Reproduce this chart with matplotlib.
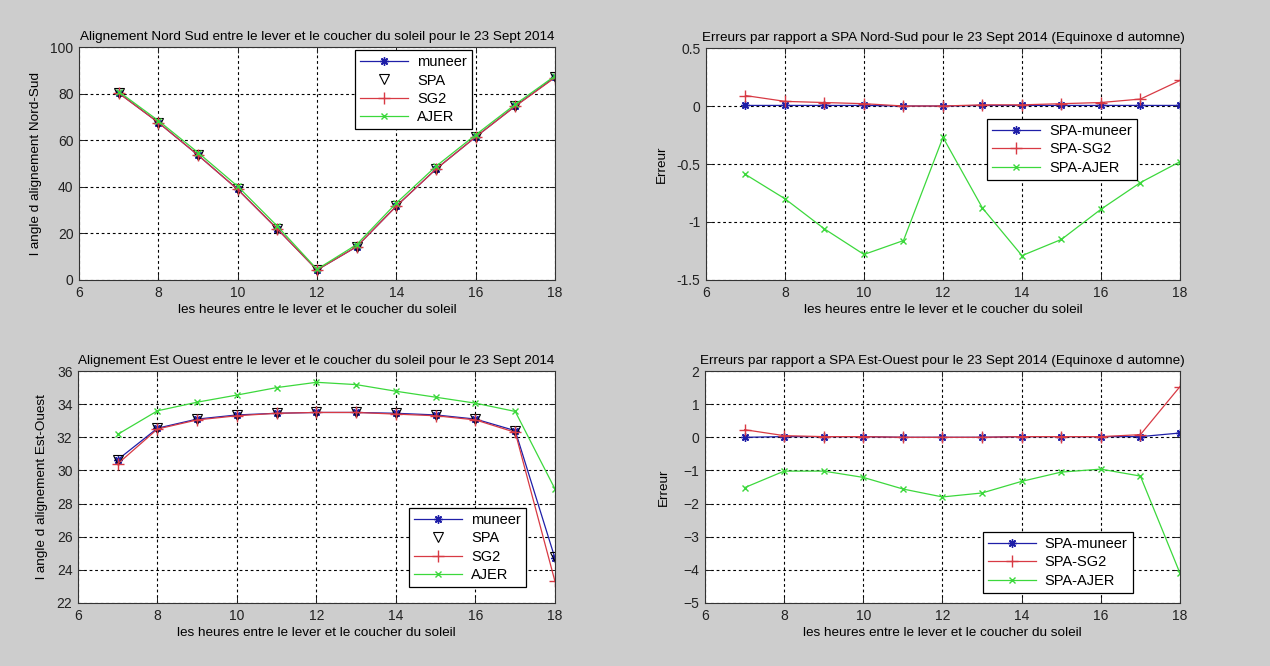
import matplotlib
matplotlib.use("Agg")
import matplotlib.pyplot as plt

plt.rcParams['font.family'] = ['Liberation Sans', 'DejaVu Sans']

hours = [7, 8, 9, 10, 11, 12, 13, 14, 15, 16, 17, 18]

# Nord-Sud alignment angle
ns_muneer = [80.3, 67.6, 53.6, 38.9, 21.9, 4.3, 14.3, 31.7, 47.6, 61.4, 74.7, 87.1]
ns_spa    = [80.3, 67.6, 53.6, 38.9, 21.9, 4.3, 14.3, 31.7, 47.6, 61.4, 74.7, 87.1]
ns_sg2    = [80.2, 67.6, 53.6, 38.9, 21.9, 4.3, 14.3, 31.7, 47.6, 61.4, 74.6, 86.9]
ns_ajer   = [80.9, 68.4, 54.7, 40.2, 23.1, 4.6, 15.2, 33.0, 48.8, 62.3, 75.4, 87.6]

# Nord-Sud errors
err_ns_muneer = [0.005, 0.005, 0.005, 0.005, 0.0, 0.0, 0.005, 0.005, 0.005, 0.005, 0.005, 0.005]
err_ns_sg2    = [0.09, 0.04, 0.03, 0.02, 0.0, 0.0, 0.01, 0.01, 0.02, 0.03, 0.06, 0.22]
err_ns_ajer   = [-0.59, -0.80, -1.06, -1.28, -1.16, -0.27, -0.88, -1.29, -1.15, -0.89, -0.66, -0.48]

# Est-Ouest alignment angle
eo_muneer = [30.65, 32.55, 33.1, 33.35, 33.45, 33.5, 33.5, 33.45, 33.35, 33.1, 32.4, 24.7]
eo_spa    = [30.65, 32.55, 33.1, 33.35, 33.45, 33.5, 33.5, 33.45, 33.35, 33.1, 32.4, 24.8]
eo_sg2    = [30.4, 32.5, 33.05, 33.3, 33.45, 33.5, 33.5, 33.4, 33.3, 33.05, 32.3, 23.3]
eo_ajer   = [32.18, 33.6, 34.12, 34.55, 35.0, 35.32, 35.18, 34.78, 34.42, 34.06, 33.56, 28.88]

# Est-Ouest errors
err_eo_muneer = [0.0, 0.02, 0.02, 0.02, 0.0, 0.0, 0.0, 0.02, 0.02, 0.02, 0.02, 0.13]
err_eo_sg2    = [0.23, 0.05, 0.02, 0.02, 0.0, 0.0, 0.0, 0.02, 0.02, 0.02, 0.08, 1.53]
err_eo_ajer   = [-1.52, -1.02, -1.02, -1.21, -1.56, -1.8, -1.68, -1.33, -1.05, -0.96, -1.17, -4.1]

xlabel_txt = "les heures entre le lever et le coucher du soleil"

BLUE = '#1f1fa8'
RED = '#d83a44'
GREEN = '#3cd83c'
BG = '#cdcdcd'
FS = 9.7
TFS = 10
ASTER = (8, 2, 0)

fig = plt.figure(figsize=(12.7, 6.66), dpi=100, facecolor=BG)

def style(ax, ylim, yticks):
    ax.set_xlim(6, 18)
    ax.set_ylim(*ylim)
    ax.set_xticks([6, 8, 10, 12, 14, 16, 18])
    ax.set_yticks(yticks)
    ax.tick_params(direction='in', length=4, width=0.7, labelsize=TFS, colors='#222222',
                   top=True, right=True, pad=4)
    ax.grid(True, color='black', linestyle=(0, (2.5, 2.5)), linewidth=0.8)
    ax.set_axisbelow(True)
    for s in ax.spines.values():
        s.set_linewidth(0.8)
        s.set_color('#333333')
    ax.set_xlabel(xlabel_txt, fontsize=FS, labelpad=3)

def legend(ax, labels, x0, top):
    leg = ax.legend(labels, loc='upper left', bbox_to_anchor=(x0, top), fontsize=10.5,
                    frameon=True, fancybox=False, edgecolor='black', framealpha=1,
                    handlelength=3.3, borderpad=0.35, labelspacing=0.3, handletextpad=0.6,
                    borderaxespad=0)
    leg.get_frame().set_linewidth(0.9)

def angle_plot(ax, mun, spa, sg2, ajer):
    ax.plot(hours, mun, color=BLUE, marker=ASTER, markersize=6, linewidth=0.9, label='muneer')
    ax.plot(hours, spa, linestyle='none', marker='v', markersize=7, markerfacecolor='none',
            markeredgecolor='black', markeredgewidth=0.8, label='SPA')
    ax.plot(hours, sg2, color=RED, marker='+', markersize=8, linewidth=0.9, label='SG2')
    ax.plot(hours, ajer, color=GREEN, marker='x', markersize=4, linewidth=0.9, label='AJER')

def err_plot(ax, mun, sg2, ajer):
    ax.plot(hours, mun, color=BLUE, marker=ASTER, markersize=6, linewidth=0.9)
    ax.plot(hours, sg2, color=RED, marker='+', markersize=8, linewidth=0.9)
    ax.plot(hours, ajer, color=GREEN, marker='x', markersize=4, linewidth=0.9)

# Top-left
ax1 = fig.add_axes([0.0622, 0.5796, 0.3748, 0.3498])
angle_plot(ax1, ns_muneer, ns_spa, ns_sg2, ns_ajer)
style(ax1, (0, 100), [0, 20, 40, 60, 80, 100])
ax1.set_title("Alignement Nord Sud entre le lever et le coucher du soleil pour le 23 Sept 2014",
              fontsize=FS, pad=5)
ax1.set_ylabel("l angle d alignement Nord-Sud", fontsize=FS, labelpad=6)
legend(ax1, ['muneer', 'SPA', 'SG2', 'AJER'], 0.58, 0.987)

# Top-right
ax2 = fig.add_axes([0.5559, 0.5796, 0.3732, 0.3483])
err_plot(ax2, err_ns_muneer, err_ns_sg2, err_ns_ajer)
style(ax2, (-1.5, 0.5), [-1.5, -1, -0.5, 0, 0.5])
ax2.set_yticklabels(['-1.5', '-1', '-0.5', '0', '0.5'])
ax2.set_title("Erreurs par rapport a SPA Nord-Sud pour le 23 Sept 2014 (Equinoxe d automne)",
              fontsize=FS, pad=5)
ax2.set_ylabel("Erreur", fontsize=FS, labelpad=6)
legend(ax2, ['SPA-muneer', 'SPA-SG2', 'SPA-AJER'], 0.593, 0.694)

# Bottom-left
ax3 = fig.add_axes([0.0614, 0.0946, 0.3756, 0.3483])
angle_plot(ax3, eo_muneer, eo_spa, eo_sg2, eo_ajer)
style(ax3, (22, 36), [22, 24, 26, 28, 30, 32, 34, 36])
ax3.set_title("Alignement Est Ouest entre le lever et le coucher du soleil pour le 23 Sept 2014",
              fontsize=FS, pad=5)
ax3.set_ylabel("l angle d alignement Est-Ouest", fontsize=FS, labelpad=6)
legend(ax3, ['muneer', 'SPA', 'SG2', 'AJER'], 0.694, 0.41)

# Bottom-right
ax4 = fig.add_axes([0.5551, 0.0946, 0.374, 0.3483])
err_plot(ax4, err_eo_muneer, err_eo_sg2, err_eo_ajer)
style(ax4, (-5, 2), [-5, -4, -3, -2, -1, 0, 1, 2])
ax4.set_title("Erreurs par rapport a SPA Est-Ouest pour le 23 Sept 2014 (Equinoxe d automne)",
              fontsize=FS, pad=5)
ax4.set_ylabel("Erreur", fontsize=FS, labelpad=10)
legend(ax4, ['SPA-muneer', 'SPA-SG2', 'SPA-AJER'], 0.585, 0.306)

fig.savefig("out.png", dpi=100, facecolor=BG)
